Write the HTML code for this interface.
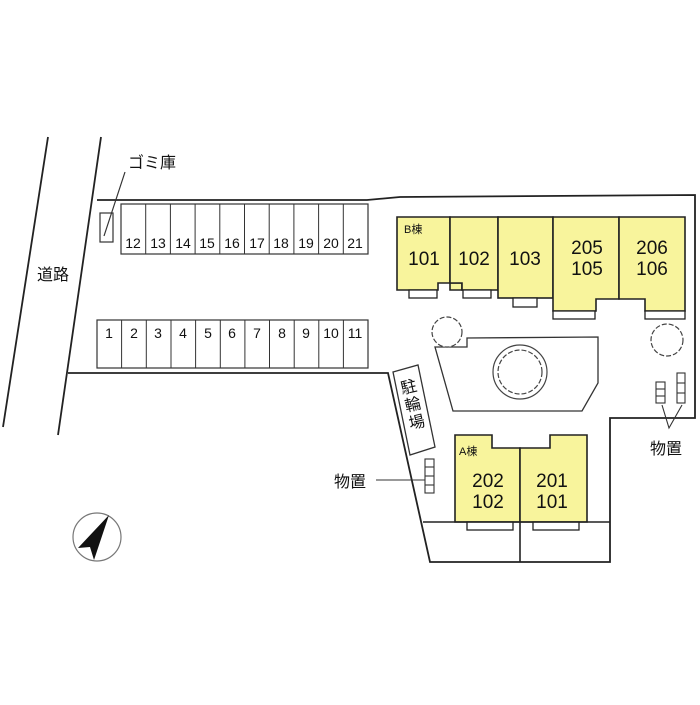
<!DOCTYPE html>
<html><head><meta charset="utf-8"><style>
html,body{margin:0;padding:0;background:#fff;}
svg text{font-family:"Liberation Sans","Noto Sans CJK JP",sans-serif;fill:#111;}
</style></head><body>
<svg width="700" height="700" viewBox="0 0 700 700" xmlns="http://www.w3.org/2000/svg">
<g stroke="#222" fill="none" stroke-width="1.8">
<line x1="48" y1="137" x2="3" y2="427"/>
<line x1="101" y1="137" x2="58" y2="435"/>
<polyline points="97,200 367,200 400,197 695,195 695,418 610,418 610,562 430,562 388,373 68,373"/>
</g>
<g stroke="#333" fill="none" stroke-width="1.2">
<rect x="121" y="204" width="247" height="50"/>
<rect x="97" y="320" width="271" height="48"/>
<rect x="100" y="213" width="13" height="29"/>
<line x1="104" y1="236" x2="125" y2="172"/>
</g>
<g stroke="#333" stroke-width="1">
<line x1="145.7" y1="204" x2="145.7" y2="254"/><line x1="170.4" y1="204" x2="170.4" y2="254"/><line x1="195.1" y1="204" x2="195.1" y2="254"/><line x1="219.8" y1="204" x2="219.8" y2="254"/><line x1="244.5" y1="204" x2="244.5" y2="254"/><line x1="269.2" y1="204" x2="269.2" y2="254"/><line x1="293.9" y1="204" x2="293.9" y2="254"/><line x1="318.6" y1="204" x2="318.6" y2="254"/><line x1="343.3" y1="204" x2="343.3" y2="254"/>
<line x1="121.6" y1="320" x2="121.6" y2="368"/><line x1="146.3" y1="320" x2="146.3" y2="368"/><line x1="171" y1="320" x2="171" y2="368"/><line x1="195.6" y1="320" x2="195.6" y2="368"/><line x1="220.3" y1="320" x2="220.3" y2="368"/><line x1="244.9" y1="320" x2="244.9" y2="368"/><line x1="269.5" y1="320" x2="269.5" y2="368"/><line x1="294.2" y1="320" x2="294.2" y2="368"/><line x1="318.8" y1="320" x2="318.8" y2="368"/><line x1="343.4" y1="320" x2="343.4" y2="368"/>
</g>
<g font-size="14" text-anchor="middle">
<text x="133" y="248">12</text><text x="158" y="248">13</text><text x="183" y="248">14</text><text x="207" y="248">15</text><text x="232" y="248">16</text><text x="257" y="248">17</text><text x="281" y="248">18</text><text x="306" y="248">19</text><text x="331" y="248">20</text><text x="355" y="248">21</text>
<text x="109" y="338">1</text><text x="134" y="338">2</text><text x="158" y="338">3</text><text x="183" y="338">4</text><text x="208" y="338">5</text><text x="232" y="338">6</text><text x="257" y="338">7</text><text x="282" y="338">8</text><text x="306" y="338">9</text><text x="331" y="338">10</text><text x="355" y="338">11</text>
</g>
<text x="128" y="168" font-size="16">ゴミ庫</text>
<text x="37" y="280" font-size="16">道路</text>
<g fill="#f8f49c" stroke="#222" stroke-width="1.6">
<polygon points="397,217 450,217 450,290 462,290 462,283 438,283 438,290 397,290"/>
<polygon points="450,217 498,217 498,290 462,290 462,283 450,283"/>
<rect x="498" y="217" width="55" height="81"/>
<polygon points="553,217 619,217 619,299 596,299 596,311 553,311"/>
<polygon points="619,217 685,217 685,311 645,311 645,299 619,299"/>
</g>
<g fill="#fff" stroke="#222" stroke-width="1.3">
<rect x="409" y="290" width="28" height="8"/><rect x="463" y="290" width="28" height="8"/>
<rect x="513" y="298" width="24" height="9"/>
<rect x="553" y="311" width="42" height="8"/><rect x="645" y="311" width="40" height="8"/>
</g>
<text x="404" y="233" font-size="11">B棟</text>
<g font-size="19" text-anchor="middle">
<text x="424" y="265">101</text><text x="474" y="265">102</text><text x="525" y="265">103</text>
<text x="587" y="254">205</text><text x="587" y="275">105</text>
<text x="652" y="254">206</text><text x="652" y="275">106</text>
</g>
<polygon points="467,338 598,337 598,383 582,411 453,411 435,347 467,347" fill="none" stroke="#333" stroke-width="1.3"/>
<g fill="#fff" stroke="#444" stroke-width="1.2">
<circle cx="447" cy="332" r="15" stroke-dasharray="5 2"/>
<circle cx="520" cy="372" r="27"/>
<circle cx="520" cy="372" r="22" stroke-dasharray="5 2"/>
<circle cx="667" cy="340" r="16" stroke-dasharray="5 2"/>
</g>
<g fill="#fff" stroke="#333" stroke-width="1.1">
<rect x="656" y="382" width="9" height="21"/><line x1="656" y1="389" x2="665" y2="389"/><line x1="656" y1="396" x2="665" y2="396"/>
<rect x="677" y="373" width="8" height="30"/><line x1="677" y1="383" x2="685" y2="383"/><line x1="677" y1="393" x2="685" y2="393"/>
<polyline points="662,405 669,428 682,405" fill="none"/>
</g>
<text x="650" y="454" font-size="16">物置</text>
<polygon points="393,372 418,365 435,447 410,455" fill="#fff" stroke="#333" stroke-width="1.3"/>
<g transform="translate(414,410) rotate(-13)" font-size="16" text-anchor="middle">
<text x="0" y="-18">駐</text><text x="0" y="0">輪</text><text x="0" y="18">場</text>
</g>
<g fill="#fff" stroke="#333" stroke-width="1.1">
<rect x="425" y="459" width="9" height="34"/><line x1="425" y1="467" x2="434" y2="467"/><line x1="425" y1="476" x2="434" y2="476"/><line x1="425" y1="485" x2="434" y2="485"/>
<line x1="376" y1="480" x2="425" y2="480"/>
</g>
<text x="334" y="487" font-size="16">物置</text>
<g fill="#f8f49c" stroke="#222" stroke-width="1.6">
<polygon points="455,435 492,435 492,448 520,448 520,522 455,522"/>
<polygon points="520,448 550,448 550,435 587,435 587,522 520,522"/>
</g>
<g fill="#fff" stroke="#222" stroke-width="1.3">
<rect x="467" y="522" width="46" height="8"/><rect x="533" y="522" width="46" height="8"/>
</g>
<g stroke="#222" stroke-width="1.6"><line x1="423" y1="522" x2="610" y2="522"/><line x1="520" y1="522" x2="520" y2="562"/></g>
<text x="459" y="455" font-size="11">A棟</text>
<g font-size="19" text-anchor="middle">
<text x="488" y="487">202</text><text x="488" y="508">102</text>
<text x="552" y="487">201</text><text x="552" y="508">101</text>
</g>
<circle cx="97" cy="537" r="24" fill="none" stroke="#777" stroke-width="1.2"/>
<polygon points="109,515 78,548 90,547 94,560" fill="#111"/>
</svg>
</body></html>
